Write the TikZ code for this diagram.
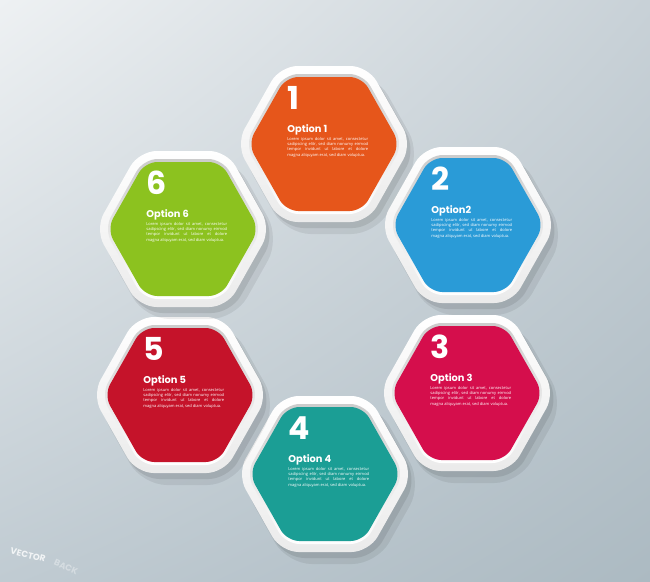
\documentclass[tikz,border=0pt]{standalone}
\usepackage{fontspec}
\setmainfont{Open Sans}
\newfontfamily\headfont{Poppins}
\usetikzlibrary{shadings}

\definecolor{bgpale}{RGB}{238,241,243}
\definecolor{bgtr}{RGB}{200,209,215}
\definecolor{bgbl}{RGB}{192,203,210}
\definecolor{bgbr}{RGB}{172,186,194}
\definecolor{hexorange}{RGB}{230,86,27}
\definecolor{hexblue}{RGB}{42,155,215}
\definecolor{hexpink}{RGB}{213,14,76}
\definecolor{hexteal}{RGB}{27,158,149}
\definecolor{hexred}{RGB}{197,19,42}
\definecolor{hexgreen}{RGB}{140,194,31}

\newcommand{\loremtxt}{Lorem ipsum dolor sit amet, consectetur\linebreak
sadipscing elitr, sed diam nonumy eirmod\linebreak
tempor invidunt ut labore et dolore\linebreak
magna aliquyam erat, sed diam voluptua.}

\begin{document}
\begin{tikzpicture}[x=0.02cm, y=-0.02cm,
  hexshape/.style 2 args={insert path={(#1,0) -- ++(-#1/2,#2) -- ++(-#1,0) -- ++(-#1/2,-#2) -- ++(#1/2,-#2) -- ++(#1,0) -- cycle}},
  hexframe/.style={top color=white, bottom color=black!8, rounded corners=10pt},
  hexlip/.style={top color=black!20, bottom color=white, rounded corners=8pt},
  numtext/.style={text=white, font=\headfont\bfseries\fontsize{18}{18}\selectfont, inner sep=0pt, anchor=base west},
  opttext/.style={text=white, font=\headfont\bfseries\fontsize{5.6}{6}\selectfont, inner sep=0pt, anchor=base west},
  loremtext/.style={text=white, font=\fontsize{2.3}{3}\selectfont, text width=46pt, align=justify, inner sep=0pt, anchor=north west},
  watermark/.style={text=white, font=\headfont\bfseries\fontsize{5}{5}\selectfont, inner sep=0pt}]
% background
\useasboundingbox (0,0) rectangle (650,582);
\shade[upper left=bgpale, upper right=bgtr, lower left=bgbl, lower right=bgbr] (0,0) rectangle (650,582);
% the six cells
\foreach \n/\cx/\cy/\col/\lab in {1/324/144/hexorange/Option 1, 2/468/225/hexblue/Option2, 3/467/393/hexpink/Option 3, 4/325/474/hexteal/Option 4, 5/180/395/hexred/Option 5, 6/183/229/hexgreen/Option 6}{
  \begin{scope}[shift={(\cx,\cy)}]
    % drop shadow
    \fill[shift={(7,10)}, black, opacity=0.07, rounded corners=14pt, hexshape={90}{80}];
    \fill[shift={(4,6)}, black, opacity=0.09, rounded corners=11pt, hexshape={88}{78}];
    % white frame
    \shade[hexframe, hexshape={88}{78}];
    \shade[hexlip, hexshape={79}{70}];
    \fill[\col, rounded corners=7pt, hexshape={76}{67}];
    % texts
    \node[numtext] (num\n) at (-37,-35) {\n};
    \node[opttext] (opt\n) at (-37,-12) {\lab};
    \node[loremtext] (txt\n) at (-37,-7) {\loremtxt};
  \end{scope}
}
% watermark
\node[watermark, opacity=0.8, rotate=-14] (wmark) at (28,555) {VECTOR};
\node[watermark, opacity=0.35, rotate=-24] (wmarkb) at (66,567) {BACK};
\end{tikzpicture}
\end{document}
